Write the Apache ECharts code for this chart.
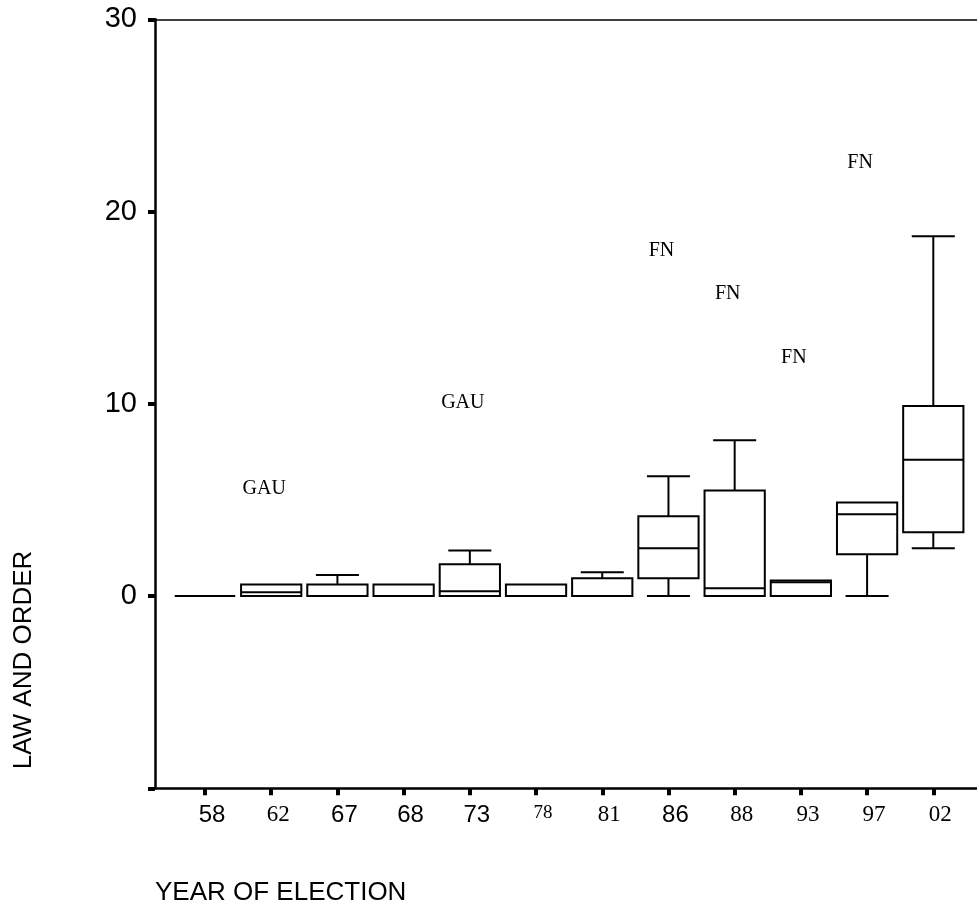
<!DOCTYPE html>
<html>
<head>
<meta charset="utf-8">
<title>Law and order by year of election</title>
<script src="https://cdn.jsdelivr.net/npm/echarts@6/dist/echarts.min.js"></script>
<style>
  html, body { margin: 0; padding: 0; background: #fff; }
  #container { width: 977px; height: 909px; }
</style>
</head>
<body>
<div id="container"></div>
<script>
// election years (x categories)
var years = ['58', '62', '67', '68', '73', '78', '81', '86', '88', '93', '97', '02'];

// box plot five numbers per year
var boxMin    = [0, 0,   0,   0,   0,    0,   0,    0,    0,    0,    0,    2.49];
var boxQ1     = [0, 0,   0,   0,   0,    0,   0,    0.93, 0,    0,    2.18, 3.32];
var boxMedian = [0, 0.2, 0,   0,   0.25, 0,   0,    2.49, 0.41, 0.72, 4.26, 7.09];
var boxQ3     = [0, 0.6, 0.6, 0.6, 1.65, 0.6, 0.93, 4.15, 5.49, 0.81, 4.86, 9.88];
var boxMax    = [0, 0.6, 1.1, 0.6, 2.37, 0.6, 1.24, 6.23, 8.1,  0.81, 4.86, 18.72];

// labelled outliers
var outlierYear  = ['62', '73', '86', '88', '93', '97'];
var outlierValue = [5.6, 10.07, 17.96, 15.74, 12.37, 22.53];
var outlierName  = ['GAU', 'GAU', 'FN', 'FN', 'FN', 'FN'];

// y ticks
var yTicks = [-10, 0, 10, 20, 30];

var SANS = '"Liberation Sans", Arial, sans-serif';
var SERIF = '"Liberation Serif", "Times New Roman", serif';

// font of each tick label as it was typeset in the original
var labelFont = {'58': 'sans', '67': 'sans', '68': 'sans', '73': 'sans', '86': 'sans', '78': 'small'};

var positions = years.map(function (y, i) { return i + 1; });

var boxData = years.map(function (y, i) {
    return [i + 1, boxMin[i], boxQ1[i], boxMedian[i], boxQ3[i], boxMax[i]];
});

var outlierData = outlierYear.map(function (y, i) {
    return [years.indexOf(y) + 1, outlierValue[i], outlierName[i]];
});

function renderBox(params, api) {
    var x = api.value(0);
    var unit = api.size([1, 0])[0];
    var half = unit * 0.455;
    var capHalf = unit * 0.325;
    var pMin = api.coord([x, api.value(1)]);
    var pQ1 = api.coord([x, api.value(2)]);
    var pMed = api.coord([x, api.value(3)]);
    var pQ3 = api.coord([x, api.value(4)]);
    var pMax = api.coord([x, api.value(5)]);
    var cx = pMed[0];
    var st = { stroke: '#000', lineWidth: 2, fill: null };
    var kids = [];

    if (api.value(5) > api.value(4)) {
        kids.push({ type: 'line', shape: { x1: cx, y1: pQ3[1], x2: cx, y2: pMax[1] }, style: st });
        kids.push({ type: 'line', shape: { x1: cx - capHalf, y1: pMax[1], x2: cx + capHalf, y2: pMax[1] }, style: st });
    }
    if (api.value(1) < api.value(2)) {
        kids.push({ type: 'line', shape: { x1: cx, y1: pQ1[1], x2: cx, y2: pMin[1] }, style: st });
        kids.push({ type: 'line', shape: { x1: cx - capHalf, y1: pMin[1], x2: cx + capHalf, y2: pMin[1] }, style: st });
    }
    kids.push({
        type: 'rect',
        shape: { x: cx - half, y: pQ3[1], width: half * 2, height: pQ1[1] - pQ3[1] },
        style: { stroke: '#000', lineWidth: 2, fill: '#fff' }
    });
    kids.push({ type: 'line', shape: { x1: cx - half, y1: pMed[1], x2: cx + half, y2: pMed[1] }, style: st });

    return { type: 'group', children: kids };
}

var dom = document.getElementById('container');
var myChart = echarts.init(dom);

var option = {
    animation: false,
    backgroundColor: '#fff',
    grid: {
        left: 155,
        right: 0,
        top: 19.3,
        bottom: 120.7,
        outerBoundsMode: 'none'
    },
    xAxis: [
        {
            type: 'value',
            min: 0.245,
            max: 12.66,
            splitLine: { show: false },
            axisLine: { show: true, onZero: false, lineStyle: { color: '#000', width: 2.5 } },
            axisTick: {
                show: true,
                customValues: positions,
                length: 7,
                lineStyle: { color: '#000', width: 4 }
            },
            axisLabel: {
                customValues: positions,
                margin: 15,
                color: '#000',
                padding: [0, 0, 0, 14],
                formatter: function (v) {
                    var y = years[Math.round(v) - 1];
                    if (y === undefined) return '';
                    var f = labelFont[y] || 'serif';
                    return '{' + f + '|' + y + '}';
                },
                rich: {
                    sans: { fontFamily: SANS, fontSize: 24, color: '#000' },
                    serif: { fontFamily: SERIF, fontSize: 23, color: '#000' },
                    small: { fontFamily: SERIF, fontSize: 19, color: '#000' }
                }
            }
        },
        {
            // top frame line
            type: 'value',
            position: 'top',
            min: 0.245,
            max: 12.66,
            splitLine: { show: false },
            axisLine: { show: true, onZero: false, lineStyle: { color: '#000', width: 1.5 } },
            axisTick: { show: false },
            axisLabel: { show: false }
        }
    ],
    yAxis: {
        type: 'value',
        min: -10,
        max: 30,
        interval: 10,
        splitLine: { show: false },
        axisLine: { show: true, onZero: false, lineStyle: { color: '#000', width: 2.5 } },
        axisTick: { show: true, length: 7, lineStyle: { color: '#000', width: 4 } },
        axisLabel: {
            margin: 18,
            color: '#000',
            fontFamily: SANS,
            fontSize: 29,
            formatter: function (v) {
                return yTicks.indexOf(v) > 0 ? String(v) : '';
            }
        }
    },
    series: [
        {
            name: 'LAW AND ORDER',
            type: 'custom',
            renderItem: renderBox,
            encode: { x: 0, y: [1, 2, 3, 4, 5] },
            data: boxData,
            z: 2
        },
        {
            name: 'outliers',
            type: 'scatter',
            symbolSize: 1,
            itemStyle: { color: 'rgba(0,0,0,0)' },
            data: outlierData,
            label: {
                show: true,
                position: 'inside',
                offset: [-7, 0],
                color: '#000',
                opacity: 1,
                textBorderWidth: 0,
                fontFamily: SERIF,
                fontSize: 20,
                formatter: function (p) { return p.data[2]; }
            },
            emphasis: { disabled: true },
            z: 3
        }
    ],
    graphic: [
        {
            type: 'text',
            x: 24,
            y: 660,
            rotation: Math.PI / 2,
            style: {
                text: 'LAW AND ORDER',
                font: '26px ' + SANS,
                fill: '#000',
                align: 'center',
                verticalAlign: 'middle'
            }
        },
        {
            type: 'text',
            x: 155,
            y: 893,
            style: {
                text: 'YEAR OF ELECTION',
                font: '26px ' + SANS,
                fill: '#000',
                align: 'left',
                verticalAlign: 'middle'
            }
        }
    ]
};

if (option && typeof option === "object") {
    myChart.setOption(option, true);
}
window.onresize = function () {
    myChart.resize();
};
</script>
</body>
</html>
